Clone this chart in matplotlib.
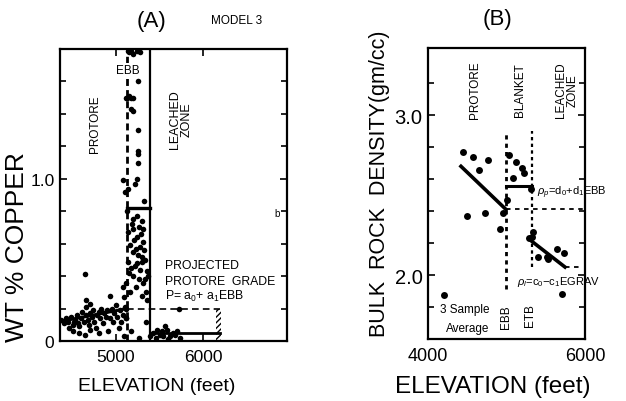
import matplotlib
matplotlib.use("Agg")
import matplotlib.pyplot as plt
from matplotlib.patches import Rectangle
import numpy as np

plt.rcParams['font.family'] = ['Liberation Sans', 'DejaVu Sans']
plt.rcParams['mathtext.fontset'] = 'custom'
plt.rcParams['mathtext.rm'] = 'Liberation Sans'
plt.rcParams['mathtext.it'] = 'Liberation Sans:italic'

# ---------------- Panel A data (elevation ft, wt % Cu) ----------------
protore_x = [4370, 4400, 4420, 4450, 4460, 4480, 4500, 4510, 4530, 4550, 4560, 4580,
             4600, 4610, 4630, 4640, 4650, 4660, 4680, 4690, 4700, 4720, 4740, 4750,
             4770, 4780, 4800, 4820, 4830, 4850, 4860, 4880, 4900, 4910, 4930, 4950,
             4960, 4980, 5000, 5010, 5030, 5050, 5060, 5080, 5090, 5100, 5110,
             4640, 4930, 4655, 4700, 4570, 4800, 4517, 4700]
protore_y = [0.13, 0.11, 0.14, 0.12, 0.08, 0.15, 0.10, 0.06, 0.13, 0.16, 0.11, 0.09,
             0.14, 0.18, 0.12, 0.04, 0.16, 0.21, 0.13, 0.10, 0.17, 0.15, 0.19, 0.12,
             0.08, 0.16, 0.18, 0.14, 0.20, 0.11, 0.17, 0.15, 0.19, 0.06, 0.14, 0.20,
             0.12, 0.17, 0.22, 0.15, 0.08, 0.19, 0.12, 0.16, 0.03, 0.21, 0.14,
             0.41, 0.28, 0.25, 0.23, 0.05, 0.05, 0.12, 0.07]

blanket_x = [5135, 5150, 5170, 5200, 5240, 5280, 5252, 5110, 5130, 5150, 5175, 5195,
             5172, 5190, 5252, 5252, 5252, 5252, 5080, 5241, 5137, 5218, 5105, 5126,
             5241, 5298, 5195, 5310, 5137, 5241, 5310, 5160, 5298, 5195, 5137, 5241,
             5218, 5298, 5356, 5367, 5333, 5160, 5310, 5356, 5080, 5090, 5172, 5350,
             5180, 5270, 5230, 5280, 5150, 5200, 5260, 5330, 5340, 5300, 5120, 5110,
             5120, 5265, 5320, 5210, 5290, 5250, 5170, 5320, 5230, 5280, 5190]
blanket_y = [1.79, 1.78, 1.79, 1.77, 1.79, 1.78, 1.60, 1.50, 1.50, 1.51, 1.50, 1.50,
             1.43, 1.42, 1.30, 1.17, 1.15, 1.10, 0.99, 1.00, 0.94, 0.97, 0.92, 0.80,
             0.77, 0.74, 0.69, 0.69, 0.67, 0.64, 0.61, 0.59, 0.52, 0.55, 0.49, 0.48,
             0.46, 0.49, 0.43, 0.40, 0.38, 0.30, 0.36, 0.25, 0.33, 0.27, 0.06, 0.12,
             0.72, 0.70, 0.57, 0.58, 0.42, 0.40, 0.38, 0.50, 0.30, 0.28, 0.36, 0.20,
             0.14, 0.02, 0.86, 0.62, 0.66, 0.53, 0.45, 0.56, 0.33, 0.44, 0.75]

leached_x = [5390, 5430, 5460, 5505, 5530, 5560, 5590, 5620, 5650, 5680, 5700, 5720,
             5740, 5600, 5470, 5540]
leached_y = [0.03, 0.05, 0.02, 0.04, 0.06, 0.09, 0.07, 0.03, 0.05, 0.04, 0.06, 0.20,
             0.02, 0.01, 0.07, 0.03]

# model lines panel A
A_ebb = 5126           # base of blanket elevation
A_top_leach = 5390     # top of blanket
A_protore_fit_x = [4356, 5126]
A_protore_fit_y = [0.12, 0.20]
A_blanket_mean = 0.82
A_projected = 0.20
A_leach_mean = 0.05
A_proj_end = 6190

# ---------------- Panel B data (elevation ft, bulk density g/cc) ----------------
Bp_x = [4446, 4573, 4650, 4764, 4497, 4726, 4917, 4956, 5006]
Bp_y = [2.77, 2.74, 2.66, 2.72, 2.37, 2.39, 2.29, 2.39, 2.47]
Bb_x = [5032, 5121, 5198, 5223, 5083, 5312]
Bb_y = [2.75, 2.71, 2.67, 2.64, 2.61, 2.54]
Bl_x = [5338, 5325, 5401, 5516, 5643, 5733, 5707, 5529, 5287]
Bl_y = [2.27, 2.24, 2.11, 2.11, 2.16, 2.14, 1.88, 2.10, 2.23]
B_avg_x = [4204]
B_avg_y = [1.875]

B_ebb = 4994
B_etb = 5325
B_protore_fit_x = [4420, 4994]
B_protore_fit_y = [2.68, 2.41]
B_blanket_mean = 2.56
B_leach_fit_x = [5325, 5745]
B_leach_fit_y = [2.21, 2.05]

fig = plt.figure(figsize=(6.26, 4.02), dpi=100)
W, H = 626, 402

def axes_px(l, r, t, b):
    return fig.add_axes([l / W, 1 - b / H, (r - l) / W, (b - t) / H])

TICKFS = 12.5
# ======================= Panel A =======================
axA = axes_px(60, 287, 50, 342)
axA.set_xlim(4356, 6966)
axA.set_ylim(0, 1.8)
ms = 4.0
axA.plot(protore_x, protore_y, 'o', color='black', ms=ms, mec='none')
axA.plot(blanket_x, blanket_y, 'o', color='black', ms=ms, mec='none')
axA.plot(leached_x, leached_y, 'o', color='black', ms=ms, mec='none')

axA.plot(A_protore_fit_x, A_protore_fit_y, '-', color='black', lw=2.2)
axA.plot([A_ebb, A_ebb], [0, 1.8], color='black', lw=2.0, ls=(0, (2.5, 1.5)))
axA.plot([A_top_leach, A_top_leach], [0.0, 1.8], color='black', lw=1.6)
axA.plot([A_ebb, A_top_leach], [A_blanket_mean] * 2, color='black', lw=2.4)
axA.plot([A_ebb, A_proj_end], [A_projected] * 2, color='black', lw=1.2, ls=(0, (4, 2.5)))
axA.plot([A_top_leach, A_proj_end], [A_leach_mean] * 2, color='black', lw=2.0)
axA.add_patch(Rectangle((A_proj_end - 40, 0.0), 60, A_projected, facecolor='none',
                        edgecolor='black', lw=0, hatch='//////'))

axA.set_xticks([5000, 6000])
axA.set_xticklabels(['5000', '6000'], fontsize=TICKFS)
axA.set_yticks([0, 1.0])
axA.set_yticklabels(['0', '1.0'], fontsize=TICKFS)
axA.set_yticks(np.arange(0.2, 1.8, 0.2), minor=True)
axA.tick_params(which='both', direction='in', top=True, right=True, width=1.2,
                length=5, pad=4)
axA.tick_params(axis='x', pad=6)
axA.tick_params(which='minor', length=4)
for s in axA.spines.values():
    s.set_linewidth(1.6)

axA.text(4758, 1.34, 'PROTORE', rotation=90, ha='center', va='center', fontsize=8.5)
axA.text(5745, 1.37, 'LEACHED\nZONE', rotation=90, ha='center', va='center',
         fontsize=9, linespacing=1.0)
axA.text(5137, 1.67, 'EBB', ha='center', va='center', fontsize=8.5,
         bbox=dict(facecolor='white', edgecolor='none', pad=0.5))
axA.text(5562, 0.467, 'PROJECTED', ha='left', va='center', fontsize=8.8)
axA.text(5562, 0.372, 'PROTORE  GRADE', ha='left', va='center', fontsize=8.8)
axA.text(5562, 0.278, r'P= a$_0$+ a$_1$EBB', ha='left', va='center', fontsize=8.8)
axA.text(6849, 0.79, 'b', ha='center', va='center', fontsize=7)

fig.text(152 / W, 1 - 22 / H, '(A)', ha='center', va='center', fontsize=16)
fig.text(237 / W, 1 - 21 / H, 'MODEL 3', ha='center', va='center', fontsize=8.5)
fig.text(17 / W, 1 - 247 / H, 'WT % COPPER', rotation=90, ha='center', va='center',
         fontsize=19)
fig.text(157 / W, 1 - 387 / H, 'ELEVATION (feet)', ha='center', va='center', fontsize=14)

# ======================= Panel B =======================
axB = axes_px(428, 585, 49, 340)
axB.set_xlim(4000, 6000)
axB.set_ylim(1.6, 3.42)
msb = 5.0
axB.plot(Bp_x, Bp_y, 'o', color='black', ms=msb, mec='none')
axB.plot(Bb_x, Bb_y, 'o', color='black', ms=msb, mec='none')
axB.plot(Bl_x, Bl_y, 'o', color='black', ms=msb, mec='none')
axB.plot(B_avg_x, B_avg_y, 'o', color='black', ms=msb, mec='none')

axB.plot(B_protore_fit_x, B_protore_fit_y, '-', color='black', lw=2.6)
axB.plot([B_ebb, B_ebb], [1.91, 2.9], color='black', lw=2.0, ls=(0, (1.5, 1.5)))
axB.plot([B_etb, B_etb], [2.05, 2.9], color='black', lw=1.6, ls=(0, (1.5, 1.5)))
axB.plot([B_ebb, B_etb], [B_blanket_mean] * 2, color='black', lw=2.2)
axB.plot([B_ebb, 5975], [B_protore_fit_y[1]] * 2, color='black', lw=1.3, ls=(0, (2.5, 2.5)))
axB.plot(B_leach_fit_x, B_leach_fit_y, '-', color='black', lw=2.6)
axB.plot([B_leach_fit_x[1], 5975], [B_leach_fit_y[1]] * 2, color='black', lw=1.3,
         ls=(0, (2.5, 2.5)))

axB.set_xticks([4000, 6000])
axB.set_xticklabels(['4000', '6000'], fontsize=TICKFS + 0.5)
axB.set_yticks([2.0, 3.0])
axB.set_yticklabels(['2.0', '3.0'], fontsize=TICKFS + 2)
axB.set_yticks([1.8, 2.2, 2.4, 2.6, 2.8, 3.2], minor=True)
axB.tick_params(which='both', direction='in', top=True, right=True, width=1.2,
                length=5, pad=4)
axB.tick_params(axis='x', pad=6)
axB.tick_params(which='minor', length=4)
for s in axB.spines.values():
    s.set_linewidth(1.6)

axB.text(4599, 3.16, 'PROTORE', rotation=90, ha='center', va='center', fontsize=8.5)
axB.text(5172, 3.16, 'BLANKET', rotation=90, ha='center', va='center', fontsize=8.5)
axB.text(5771, 3.16, 'LEACHED\nZONE', rotation=90, ha='center', va='center',
         fontsize=8.5, linespacing=1.0)
axB.text(5389, 2.52, r'$\rho_p$=d$_0$+d$_1$EBB', ha='left', va='center', fontsize=8)
axB.text(5134, 1.96, r'$\rho_l$=c$_0$$-$c$_1$EGRAV', ha='left', va='center', fontsize=8)
axB.text(4153, 1.79, '3 Sample', ha='left', va='center', fontsize=8.5)
axB.text(4230, 1.67, 'Average', ha='left', va='center', fontsize=8.5)
axB.text(4994, 1.74, 'EBB', rotation=90, ha='center', va='center', fontsize=8.5)
axB.text(5300, 1.75, 'ETB', rotation=90, ha='center', va='center', fontsize=8.5)

fig.text(498 / W, 1 - 20 / H, '(B)', ha='center', va='center', fontsize=16)
fig.text(380 / W, 1 - 184 / H, 'BULK  ROCK  DENSITY(gm/cc)', rotation=90, ha='center',
         va='center', fontsize=15.5)
fig.text(493 / W, 1 - 387 / H, 'ELEVATION (feet)', ha='center', va='center', fontsize=17.5)

fig.savefig('out.png', dpi=100)
